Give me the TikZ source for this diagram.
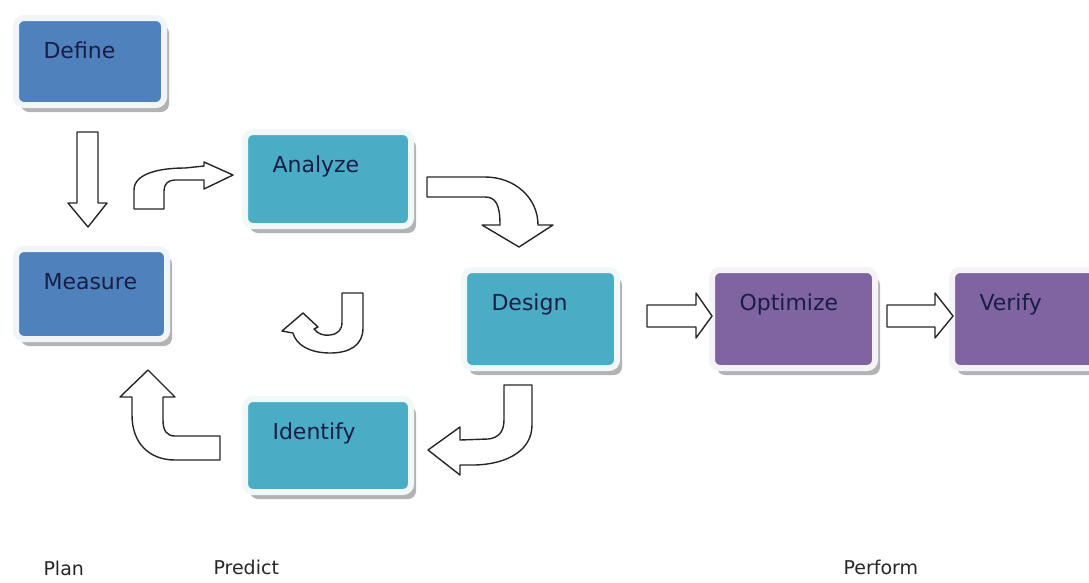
\documentclass[tikz,border=0pt]{standalone}
\usepackage{fontspec}
\setmainfont{DejaVu Sans}
\usetikzlibrary{shadows}
\definecolor{planblue}{RGB}{79,129,189}
\definecolor{predictteal}{RGB}{75,172,198}
\definecolor{performpurple}{RGB}{128,100,162}
\definecolor{stageink}{RGB}{25,30,70}

\tikzset{
	stage/.style={fill=#1, draw=#1!8, line width=6pt, rounded corners=8pt, anchor=north west,
		outer sep=0pt, inner sep=0pt,
		drop shadow={shadow xshift=5pt, shadow yshift=-7pt, fill=black!50, opacity=0.6}},
	stagetext/.style={anchor=base west, xshift=24pt, yshift=-40pt, text=stageink,
		font=\fontsize{22}{26}\selectfont},
	blockarrow/.style={draw=black!85, fill=white, line width=1.4pt, line join=round},
	phase/.style={anchor=base west, text=black!85, font=\fontsize{19}{23}\selectfont},
}

\begin{document}
\begin{tikzpicture}[x=1pt, y=-1pt]
			\useasboundingbox (0,0) rectangle (1089,582);

			% plan
			\node[stage=planblue, minimum width=148, minimum height=87,
				label={[stagetext]north west:Define}] (define) at (16,18) {};
			\node[stage=planblue, minimum width=151, minimum height=90,
				label={[stagetext]north west:Measure}] (measure) at (16,249) {};

			% predict
			\node[stage=predictteal, minimum width=166, minimum height=94,
				label={[stagetext]north west:Analyze}] (analyze) at (245,132) {};
			\node[stage=predictteal, minimum width=153, minimum height=98,
				label={[stagetext]north west:Design}] (design) at (464,270) {};
			\node[stage=predictteal, minimum width=166, minimum height=93,
				label={[stagetext]north west:Identify}] (identify) at (245,399) {};

			% perform
			\node[stage=performpurple, minimum width=163, minimum height=98,
				label={[stagetext]north west:Optimize}] (optimize) at (712,270) {};
			\node[stage=performpurple, minimum width=163, minimum height=98,
				label={[stagetext]north west:Verify}] (verify) at (952,270) {};

			% block arrows
			\draw[blockarrow] (77,132) -- (98,132) -- (98,203) -- (107,203) -- (88,227)
				-- (68,203) -- (77,203) -- cycle;
			\draw[blockarrow] (134,209) -- (134,190) .. controls (134,174) and (158,168) .. (185,168)
				-- (204,166) -- (204,162) -- (233,175) -- (204,189) -- (204,180) -- (175,180)
				.. controls (168,180) and (164,184) .. (164,191) -- (164,209) -- cycle;
			\draw[blockarrow] (427,177) -- (485,177) .. controls (515,177) and (538,198) .. (538,225)
				-- (553,225) -- (519,247) -- (482,225) -- (500,225)
				.. controls (500,205) and (496,197) .. (485,197) -- (427,197) -- cycle;
			\draw[blockarrow] (504,385) -- (532,385) -- (532,425) .. controls (532,450) and (508,464) .. (475,465)
				-- (460,465) -- (460,475) -- (428,450) -- (460,427) -- (460,440) -- (488,439)
				.. controls (499,438) and (504,431) .. (504,420) -- cycle;
			\draw[blockarrow] (220,436) -- (175,436) .. controls (167,436) and (163,431) .. (163,420)
				-- (163,397) -- (175,397) -- (148,370) -- (120,397) -- (132,397) -- (132,415)
				.. controls (132,444) and (150,460) .. (175,460) -- (220,460) -- cycle;
			\draw[blockarrow] (342,293) -- (363,293) -- (363,328) .. controls (363,345) and (350,353) .. (330,353)
				.. controls (310,353) and (296,345) .. (293,333) -- (282,331) -- (303,313) -- (318,327)
				-- (314,329) .. controls (318,334) and (324,336) .. (330,335)
				.. controls (338,334) and (342,330) .. (342,322) -- cycle;
			\draw[blockarrow] (647,305) -- (696,305) -- (696,293) -- (712,316) -- (696,338)
				-- (696,327) -- (647,327) -- cycle;
			\draw[blockarrow] (887,305) -- (935,305) -- (935,293) -- (953,316) -- (935,338)
				-- (935,327) -- (887,327) -- cycle;

			\node[phase] (plan) at (40,575) {Plan};
			\node[phase] (predict) at (210,574) {Predict};
			\node[phase] (perform) at (840,574) {Perform};

		\end{tikzpicture}
\end{document}
